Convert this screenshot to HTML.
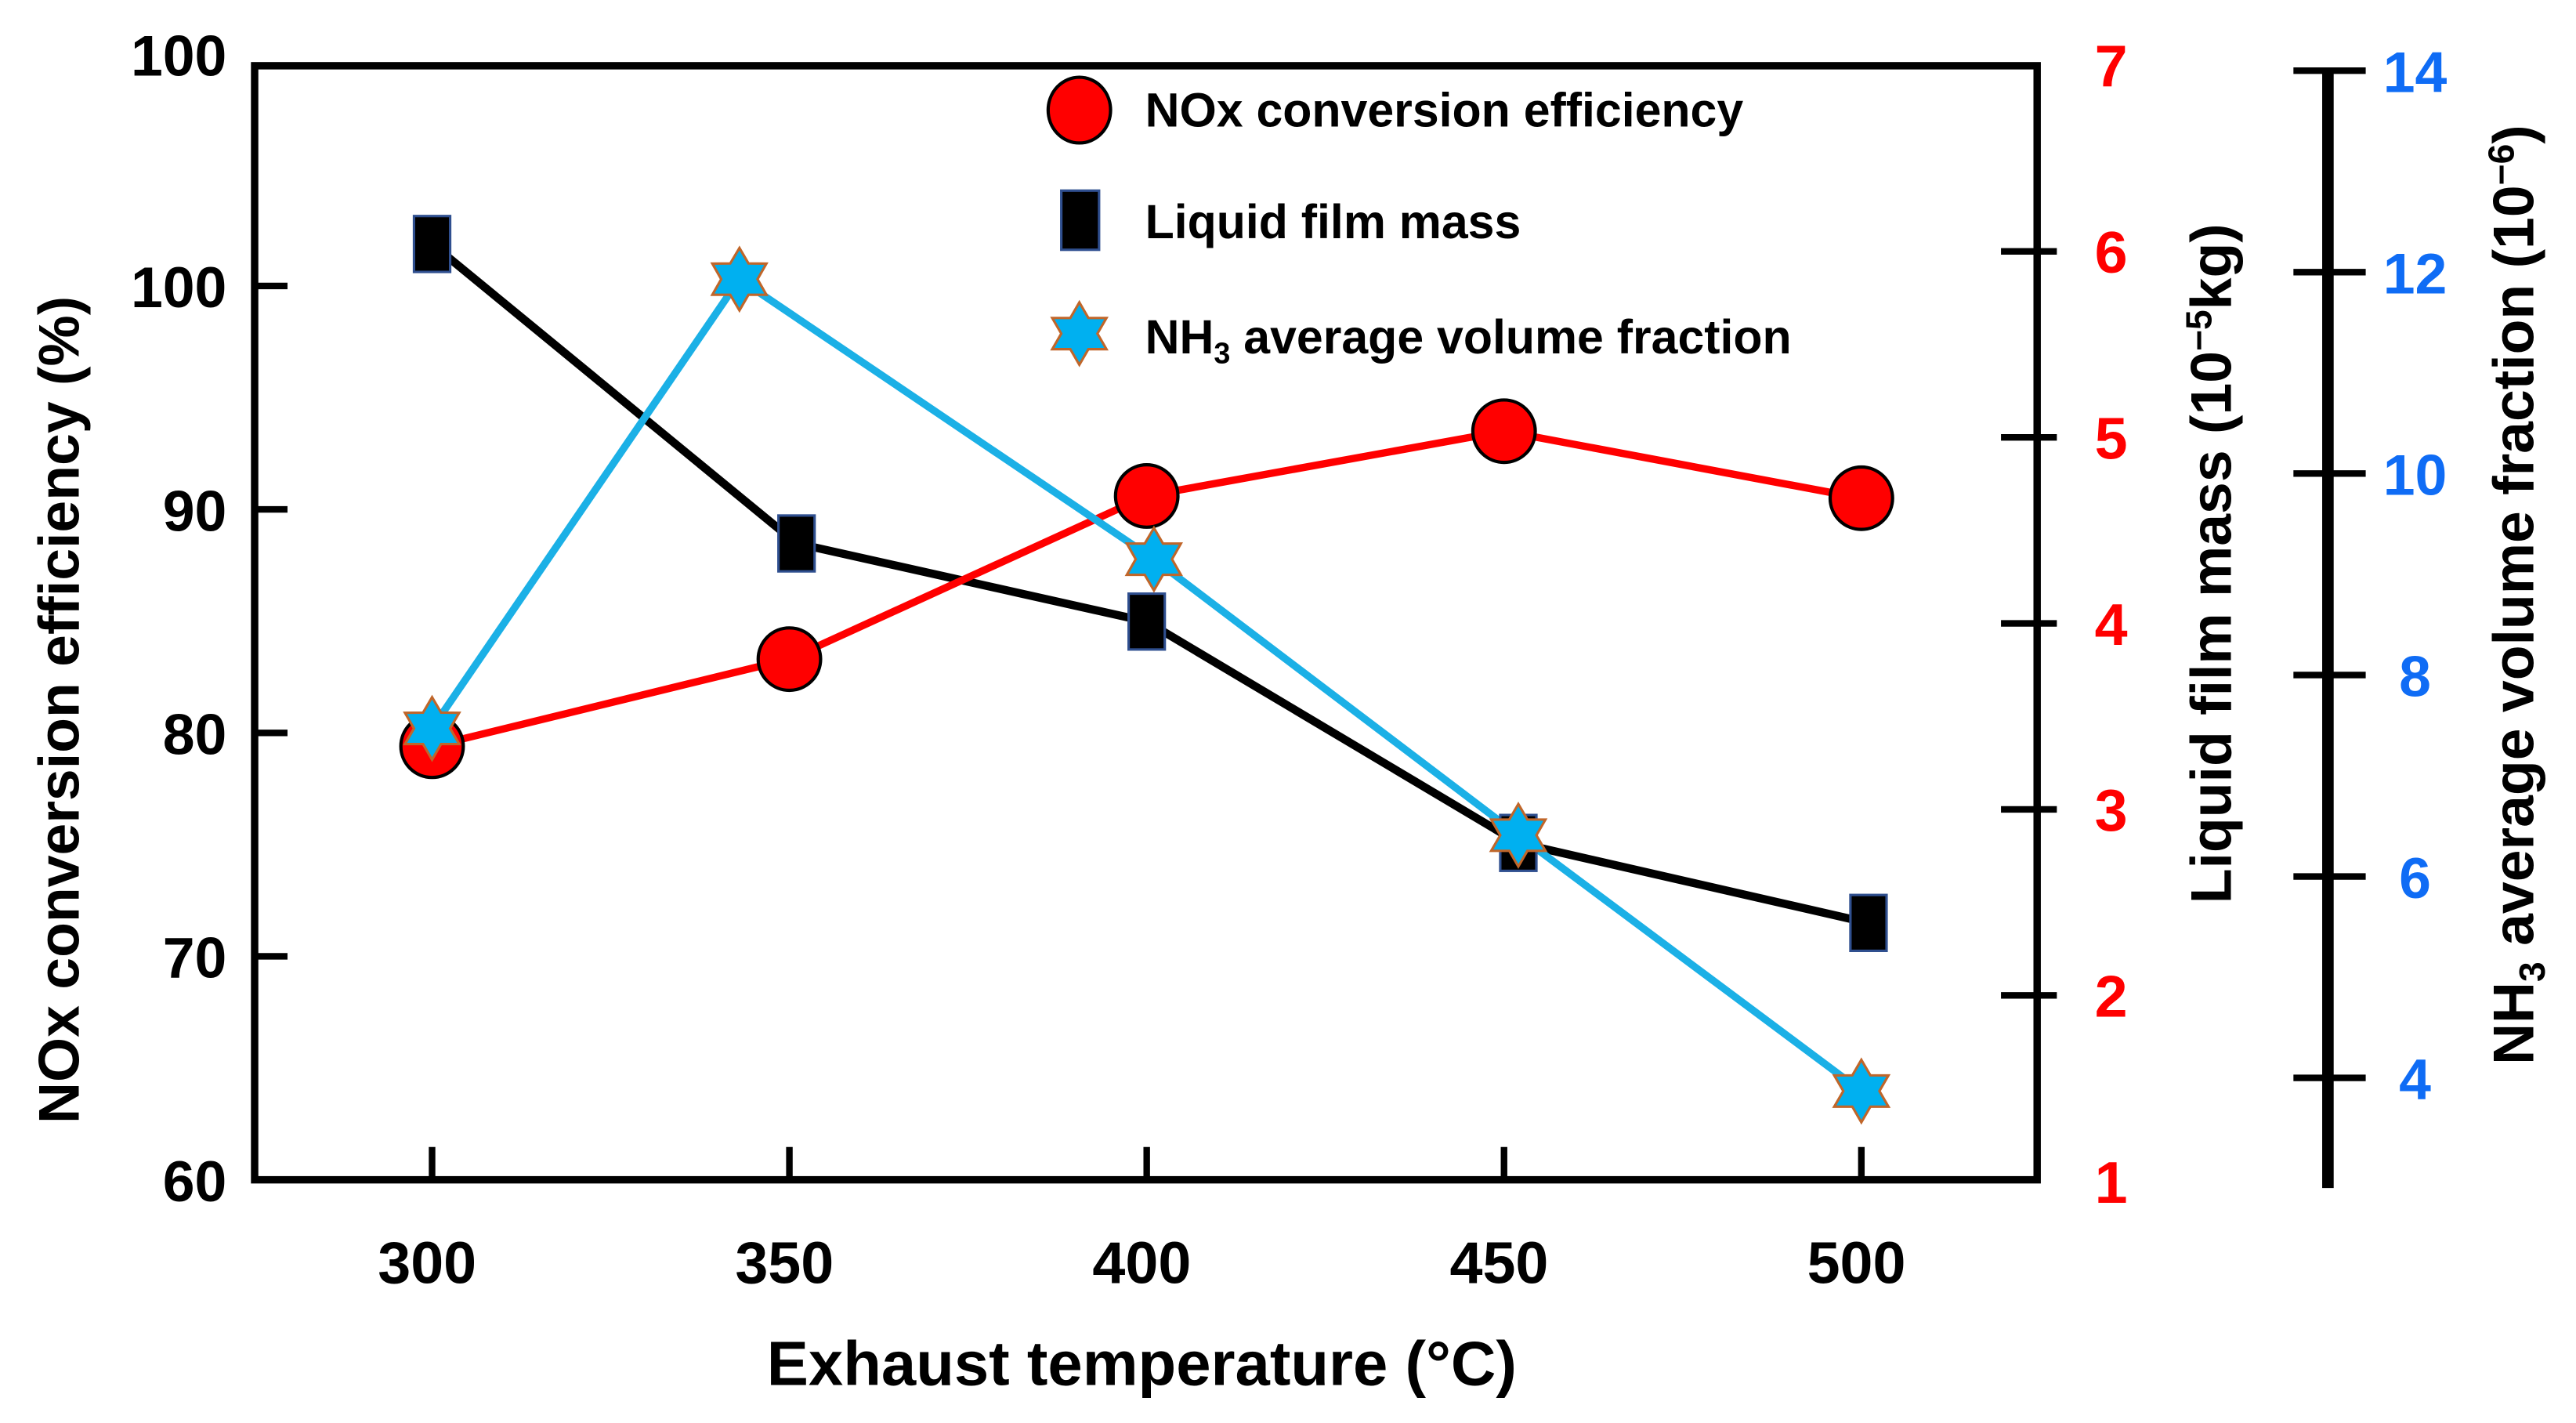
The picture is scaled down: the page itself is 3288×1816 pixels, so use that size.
<!DOCTYPE html>
<html><head><meta charset="utf-8"><style>
html,body{margin:0;padding:0;background:#fff;}
svg{display:block;}
text{font-family:"Liberation Sans",Arial,sans-serif;font-weight:bold;}
</style></head><body>
<svg id="chart" width="3288" height="1816" viewBox="0 0 1568 866" xmlns="http://www.w3.org/2000/svg">
<g id="axes"></g>
<g id="series"></g>
<g id="legend">
  <ellipse cx="657" cy="67" rx="19" ry="20" fill="#ff0000" stroke="#000" stroke-width="2"/>
  <text x="697" y="77" font-size="29">NOx conversion efficiency</text>
  <rect x="646" y="116" width="23" height="36" fill="#000" stroke="#2f4f8f" stroke-width="1.5"/>
  <text x="697" y="145" font-size="29">Liquid film mass</text>
  <path id="legstar" fill="#00b0f0" stroke="#c0662a" stroke-width="1.5"/>
  <text x="697" y="215" font-size="29">NH<tspan font-size="18" dy="6">3</tspan><tspan dy="-6"> average volume fraction</tspan></text>
</g>
</svg>
<script>
const temps=[300,350,400,450,500];
const noxX=[300,350,400,450,500];
const noxVals=[79.4,83.3,90.6,93.5,90.5];
const filmX=[300,351,400,452,501];
const filmVals=[6.04,4.43,4.01,2.82,2.39];
const nh3X=[300,343,401,452,500];
const nh3Vals=[7.47,11.93,9.15,6.41,3.87];
const leftTicks=[60,70,80,90,100];
const redTicks=[1,2,3,4,5,6,7];
const blueTicks=[4,6,8,10,12,14];

const NS="http://www.w3.org/2000/svg";
const X0=155,X1=1240,Y0=40,Y1=718;
function xs(t){return 263+(t-300)*(1133-263)/200;}
function yL(v){return 718-(v-60)*13.6;}
function yR(v){return 719-(v-1)*113.2;}
function yB(v){return 656-(v-4)*61.3;}
function mk(tag,attrs,parent,txt){const e=document.createElementNS(NS,tag);for(const k in attrs)e.setAttribute(k,attrs[k]);if(txt!==undefined)e.textContent=txt;parent.appendChild(e);return e;}
function star(cx,cy,r){const ri=r*0.58;let d="";for(let i=0;i<12;i++){const a=-Math.PI/2+i*Math.PI/6;const rr=i%2?ri:r;d+=(i?"L":"M")+(cx+rr*Math.cos(a)).toFixed(1)+","+(cy+rr*Math.sin(a)).toFixed(1);}return d+"Z";}

const ax=document.getElementById('axes');
let e=mk('rect',{x:X0,y:Y0,width:X1-X0,height:Y1-Y0,fill:'none',stroke:'#000','stroke-width':4.5},ax);


leftTicks.forEach(v=>{
  if(v>60){const t=mk('line',{x1:X0,x2:X0+20,y1:yL(v),y2:yL(v),stroke:'#000','stroke-width':4},ax);
  
  }
  const l=mk('text',{x:138,y:yL(v)+13,'font-size':35,'text-anchor':'end'},ax,String(v));
  
  
});
e=mk('text',{x:138,y:46,'font-size':35,'text-anchor':'end'},ax,'100');


temps.forEach(v=>{
  const t=mk('line',{x1:xs(v),x2:xs(v),y1:Y1-20,y2:Y1,stroke:'#000','stroke-width':4},ax);
  
  
  const l=mk('text',{x:xs(v)-3,y:781,'font-size':36,'text-anchor':'middle'},ax,String(v));
  
  
});
redTicks.forEach(v=>{
  if(v>1&&v<7){const t=mk('line',{x1:1218,x2:1252,y1:yR(v),y2:yR(v),stroke:'#000','stroke-width':4},ax);
  
  }
  const l=mk('text',{x:1285,y:Math.max(yR(v),35)+13,'font-size':36,'text-anchor':'middle',fill:'#ff0000'},ax,String(v));
  
  
});
e=mk('line',{x1:1417,x2:1417,y1:42,y2:723,stroke:'#000','stroke-width':7},ax);


blueTicks.forEach(v=>{
  const t=mk('line',{x1:1396,x2:1440,y1:yB(v),y2:yB(v),stroke:'#000','stroke-width':4},ax);
  
  
  const l=mk('text',{x:1470,y:yB(v)+13,'font-size':35,'text-anchor':'middle',fill:'#0f6cf5'},ax,String(v));
  
  
});
e=mk('text',{x:695,y:843,'font-size':38,'text-anchor':'middle'},ax,'Exhaust temperature (°C)');


e=mk('text',{transform:'translate(48,432) rotate(-90)','font-size':35,'text-anchor':'middle'},ax,'NOx conversion efficiency (%)');


e=mk('text',{transform:'translate(1358,343) rotate(-90)','font-size':35,'text-anchor':'middle'},ax);


e.innerHTML='Liquid film mass (10<tspan font-size="22" dy="-12">−5</tspan><tspan dy="12">kg)</tspan>';
e=mk('text',{transform:'translate(1542,362) rotate(-90)','font-size':35,'text-anchor':'middle'},ax);


e.innerHTML='NH<tspan font-size="22" dy="7">3</tspan><tspan dy="-7"> average volume fraction (10</tspan><tspan font-size="22" dy="-12">−6</tspan><tspan dy="12">)</tspan>';

const sg=document.getElementById('series');
function line(xArr,vals,fy,color,w,name){
  const pts=xArr.map((t,i)=>xs(t).toFixed(1)+','+fy(vals[i]).toFixed(1)).join(' ');
  const p=mk('polyline',{points:pts,fill:'none',stroke:color,'stroke-width':w,'stroke-linejoin':'round'},sg);
  
  
}
line(filmX,filmVals,yR,'#000',5,'film-line');
line(noxX,noxVals,yL,'#ff0000',4.5,'nox-line');
line(nh3X,nh3Vals,yB,'#1bb0e6',4.5,'nh3-line');
filmX.forEach((t,i)=>{
  const r=mk('rect',{x:xs(t)-11,y:yR(filmVals[i])-17,width:22,height:34,fill:'#000',stroke:'#2f4f8f','stroke-width':1.5},sg);
  
  
});
noxX.forEach((t,i)=>{
  const c=mk('ellipse',{cx:xs(t),cy:yL(noxVals[i]),rx:19,ry:19,fill:'#ff0000',stroke:'#000','stroke-width':2},sg);
  
  
});
nh3X.forEach((t,i)=>{
  const s=mk('path',{d:star(xs(t),yB(nh3Vals[i]),19),fill:'#00b0f0',stroke:'#c0662a','stroke-width':1.5},sg);
  
  
});
document.getElementById('legstar').setAttribute('d',star(657,203,19));
</script>
</body></html>
